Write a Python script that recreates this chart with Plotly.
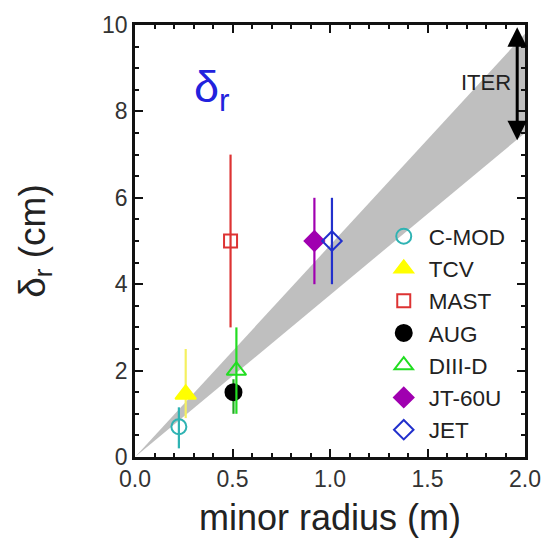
import plotly.graph_objects as go

# ---- data ----
machines = ["C-MOD", "TCV", "MAST", "AUG", "DIII-D", "JT-60U", "JET"]
minor_radius = [0.225, 0.26, 0.49, 0.505, 0.52, 0.92, 1.01]
delta_r = [0.7, 1.45, 5.0, 1.5, 2.0, 5.0, 5.0]
err_plus = [0.45, 1.05, 2.0, 0.3, 1.0, 1.0, 1.0]
err_minus = [0.5, 0.55, 2.0, 0.5, 1.0, 1.0, 1.0]

band_slope_upper = 4.9    # cm per m
band_slope_lower = 3.75
band_x_end = 2.0

iter_x = 1.96
iter_low = 7.3
iter_high = 9.95

# ---- styles ----
colors = ["#2fb3b3", "#ffff00", "#dd3333", "#000000", "#22dd22", "#a000b0", "#2230cc"]
bar_colors = ["#2fb3b3", "#f4f060", "#dd3333", "#22aa22", "#22dd22", "#a000b0", "#2230cc"]
symbols = ["circle-open", "triangle-up", "square-open", "circle", "triangle-up-open", "diamond", "diamond-open"]
sizes = [15, 18, 13, 16, 17, 15, 15]

FONT = "Liberation Sans, Arial, Helvetica, sans-serif"

fig = go.Figure()

# gray band
fig.add_trace(go.Scatter(
    x=[0, band_x_end, band_x_end, 0],
    y=[0, band_slope_upper * band_x_end, band_slope_lower * band_x_end, 0],
    fill="toself", fillcolor="#bfbfbf", line=dict(width=0),
    mode="lines", showlegend=False, hoverinfo="skip"))

for i, m in enumerate(machines):
    fig.add_trace(go.Scatter(
        x=[minor_radius[i]], y=[delta_r[i]], name=m, legendgroup=m,
        mode="markers",
        marker=dict(symbol=symbols[i], size=sizes[i], color=colors[i],
                    line=dict(color=colors[i], width=2)),
        error_y=dict(type="data", symmetric=False, array=[err_plus[i]],
                     arrayminus=[err_minus[i]], color=bar_colors[i],
                     thickness=2.2, width=0),
    ))

# ITER arrow
fig.add_annotation(x=iter_x, y=iter_high, ax=iter_x, ay=iter_low,
                   xref="x", yref="y", axref="x", ayref="y",
                   text="", showarrow=True, arrowside="end+start",
                   arrowhead=2, arrowsize=1.3, arrowwidth=3, arrowcolor="#000")
fig.add_annotation(x=iter_x - 0.02, y=8.68, xref="x", yref="y", text="ITER",
                   showarrow=False, xanchor="right",
                   font=dict(family=FONT, size=22, color="#222"))
# delta_r label
fig.add_annotation(x=0.395, y=8.5, xref="x", yref="y", text="δ<sub>r</sub>",
                   showarrow=False, font=dict(family=FONT, size=45, color="#2222dd"))

axis_common = dict(showline=True, linecolor="#111", linewidth=2.5, mirror="allticks",
                   ticks="inside", ticklen=8, tickwidth=2, tickcolor="#111",
                   showgrid=False, zeroline=False,
                   tickfont=dict(family=FONT, size=23, color="#333"))

fig.update_xaxes(range=[0, 2], tickvals=[0, 0.5, 1.0, 1.5, 2.0], tickformat=".1f",
                 minor=dict(ticks="inside", ticklen=4, tickwidth=1.5, dtick=0.1, tickcolor="#111"),
                 title=dict(text="minor radius (m)", font=dict(family=FONT, size=36, color="#222"), standoff=14),
                 **axis_common)
fig.update_yaxes(range=[0, 10], tickvals=[0, 2, 4, 6, 8, 10],
                 minor=dict(ticks="inside", ticklen=4, tickwidth=1.5, dtick=0.5, tickcolor="#111"),
                 title=dict(text="δ<sub>r</sub> (cm)", font=dict(family=FONT, size=37, color="#222"), standoff=46),
                 **axis_common)

fig.update_layout(
    width=553, height=548,
    margin=dict(l=135, r=20, t=13, b=91),
    plot_bgcolor="white", paper_bgcolor="white",
    legend=dict(x=0.625, y=0.56, xanchor="left", yanchor="top",
                font=dict(family=FONT, size=22.5, color="#222"),
                bgcolor="rgba(0,0,0,0)", tracegroupgap=0, itemwidth=40),
    showlegend=True,
)

fig.write_html("out.html")
